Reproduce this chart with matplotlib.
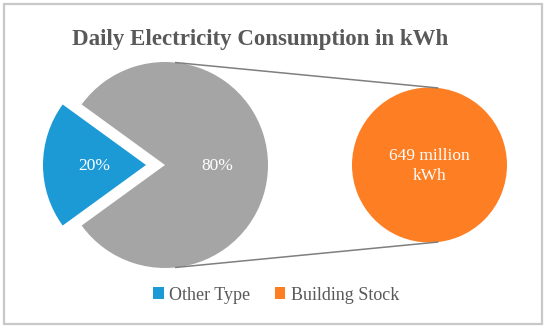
import matplotlib
matplotlib.use("Agg")
import matplotlib.pyplot as plt
import numpy as np
from matplotlib.patches import Rectangle

categories = ["Other Type", "Building Stock"]
shares = [20, 80]
share_labels = ["20%", "80%"]
building_stock_value = 649
building_stock_label = "649 million\nkWh"
title = "Daily Electricity Consumption in kWh"

c_blue = "#1C9AD6"
c_gray = "#A5A5A5"
c_orange = "#FD7E23"
c_text = "#595959"

W, H = 550, 332
fig = plt.figure(figsize=(W / 100, H / 100), dpi=100)
ax = fig.add_axes([0, 0, 1, 1])

serif = ["Liberation Serif", "DejaVu Serif"]

# main pie
cx, cy, r = 165, 167, 103
wedges, _ = ax.pie(shares, colors=[c_blue, c_gray], startangle=144, counterclock=True,
                   explode=[19, 0], center=(cx, cy), radius=r, frame=True,
                   wedgeprops=dict(linewidth=0))

# secondary circle
ox, oy, orad = 429.5, 167, 77.5
w2, _ = ax.pie([building_stock_value], colors=[c_orange], center=(ox, oy), radius=orad,
               frame=True, wedgeprops=dict(linewidth=0))

ax.set_xlim(0, W)
ax.set_ylim(0, H)
ax.set_aspect("equal")
ax.axis("off")

# frame
ax.add_patch(Rectangle((4, 8), 538, 320, fc="none", ec="#C8C8C8", lw=1.6, zorder=0))

# labels
ax.text(94, cy - 1, share_labels[0], color="white", fontsize=12.5, ha="center", va="center",
        family=serif)
ax.text(217, cy - 1, share_labels[1], color="white", fontsize=12.5, ha="center", va="center",
        family=serif)

ax.text(ox, oy - 1, building_stock_label, color="white", fontsize=12.5, ha="center",
        va="center", family=serif, linespacing=1.35)

# connector lines
ang = np.deg2rad(84)
for s in (1, -1):
    x0, y0 = cx + r * np.cos(ang), cy + s * r * np.sin(ang)
    x1, y1 = ox + orad * np.cos(ang), oy + s * orad * np.sin(ang)
    ax.plot([x0, x1], [y0, y1], color="#7F7F7F", lw=1.1, zorder=1)

# title
ax.text(260, H - 40, title, color=c_text, fontsize=16.5, fontweight="bold",
        ha="center", va="center", family=serif)

# legend
leg = ax.legend([wedges[0], w2[0]], categories, loc="center", bbox_to_anchor=(276 / W, 1 - 295 / H),
                ncol=2, frameon=False, handlelength=0.6, handleheight=0.6,
                handletextpad=0.3, columnspacing=1.35, prop=dict(family=serif, size=13))
for t in leg.get_texts():
    t.set_color(c_text)

fig.savefig("out.png", dpi=100)
